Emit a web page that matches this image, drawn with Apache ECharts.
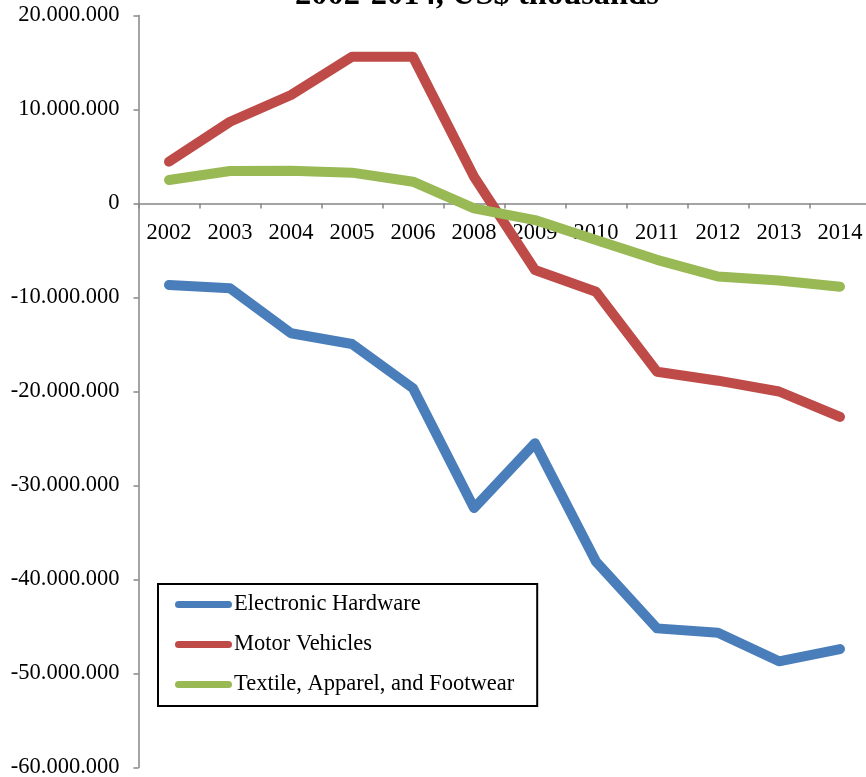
<!DOCTYPE html>
<html>
<head>
<meta charset="utf-8">
<script src="https://cdn.jsdelivr.net/npm/echarts@6/dist/echarts.min.js"></script>
<style>
html,body{margin:0;padding:0;background:#fff;}
#chart{width:866px;height:777px;}
</style>
</head>
<body>
<div id="chart"></div>
<script>
var titleText = '2002-2014, US$ thousands';
var categories = ['2002','2003','2004','2005','2006','2008','2009','2010','2011','2012','2013','2014'];
var seriesNames = ['Electronic Hardware','Motor Vehicles','Textile, Apparel, and Footwear'];
var electronicHardware = [-8670000,-9020000,-13800000,-14950000,-19660000,-32400000,-25500000,-38100000,-45200000,-45660000,-48700000,-47400000];
var motorVehicles = [4450000,8700000,11540000,15600000,15600000,2850000,-7070000,-9380000,-17900000,-18850000,-20000000,-22700000];
var textiles = [2500000,3460000,3490000,3280000,2320000,-510000,-1760000,-3880000,-5990000,-7770000,-8200000,-8850000];
var yMin = -60000000, yMax = 20000000, yStep = 10000000;

var FONT = 'Liberation Serif';
var FS = 22.5;
function fmt(v){
  var neg = v < 0; var s = String(Math.abs(v));
  s = s.replace(/\B(?=(\d{3})+(?!\d))/g, '.');
  return (neg ? '-' : '') + s;
}
var capsule = 'path://M3.5,0 L53.5,0 A3.5,3.5 0 0 1 53.5,7 L3.5,7 A3.5,3.5 0 0 1 3.5,0 Z';
var colors = ['#4A7EBB','#BE4B48','#98B954'];
var data = [electronicHardware, motorVehicles, textiles];

var chart = echarts.init(document.getElementById('chart'), null, {renderer:'canvas'});
chart.setOption({
  backgroundColor:'#fff',
  animation:false,
  color: colors,
  title:{
    text: titleText, left: 290, top: -26,
    textStyle:{fontFamily:FONT, fontWeight:'bold', fontSize:32.5, color:'#000'}
  },
  grid:[
    {left:138.5, top:15.5, width:732, height:752, containLabel:false, outerBoundsMode:'none'},
    {left:138.5, top:15.5, width:732, height:188, containLabel:false, outerBoundsMode:'none'}
  ],
  legend:{
    orient:'vertical', left:158, top:584,
    padding:[9,23,10,17],
    borderColor:'#000', borderWidth:2, backgroundColor:'#fff',
    itemWidth:57, itemHeight:7, itemGap:17, icon: capsule,
    textStyle:{fontFamily:FONT, fontSize:FS, color:'#000', lineHeight:23, padding:[0,0,0,-3]},
    data: seriesNames
  },
  xAxis:[{
    type:'category', data:categories, boundaryGap:true, gridIndex:0,
    axisLine:{onZero:true, lineStyle:{color:'#868686', width:1.5}},
    axisTick:{show:true, interval:0, length:5, lineStyle:{color:'#868686', width:1.5}},
    axisLabel:{show:false},
    splitLine:{show:false}
  },{
    type:'category', data:categories, boundaryGap:true, gridIndex:1, position:'bottom',
    axisLine:{show:false}, axisTick:{show:false},
    axisLabel:{show:true, interval:0, margin:18, fontFamily:FONT, fontSize:FS, color:'#000'},
    splitLine:{show:false}
  }],
  yAxis:[{
    type:'value', min:yMin, max:yMax, interval:yStep, gridIndex:0,
    axisLine:{show:true, lineStyle:{color:'#868686', width:1.5}},
    axisTick:{show:true, length:5, lineStyle:{color:'#868686', width:1.5}},
    axisLabel:{margin:19, fontFamily:FONT, fontSize:FS, color:'#000', formatter: fmt},
    splitLine:{show:false}
  },{
    type:'value', gridIndex:1, show:false, min:0, max:1
  }],
  series: seriesNames.map(function(n,i){
    return {
      name:n, type:'line', data:data[i], showSymbol:false, symbol:'none',
      xAxisIndex:0, yAxisIndex:0,
      lineStyle:{width:10, color:colors[i], cap:'round', join:'round'},
      itemStyle:{color:colors[i]}
    };
  })
});
</script>
</body>
</html>
